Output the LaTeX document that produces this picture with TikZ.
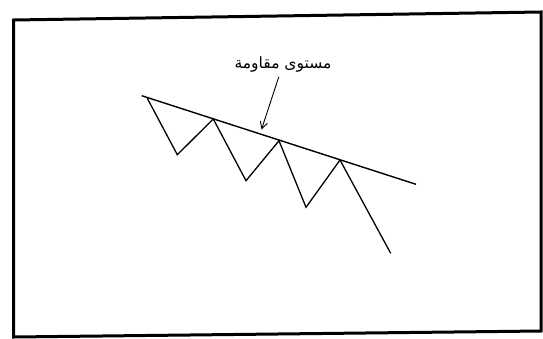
\documentclass[tikz,border=0pt]{standalone}
\usepackage{fontspec}
\usetikzlibrary{arrows.meta,positioning,calc}
\newfontfamily\arabicfont[Script=Arabic]{DejaVu Sans}
\TeXXeTstate=1
\tikzset{frame/.style={line width=3pt,line join=miter},trend/.style={line width=1.4pt},price/.style={line width=1.3pt,line join=miter},arrow/.style={-{Straight Barb[length=2.4mm,width=2.6mm]},line width=0.9pt},lab/.style={font=\arabicfont\fontsize{15.5}{17}\selectfont,inner sep=1pt}}
\begin{document}
\begin{tikzpicture}[x=1pt,y=-1pt]
\useasboundingbox (0,0) rectangle (543,338);
\draw[frame] (13.5,20) -- (541,12) -- (541,331) -- (13.5,337) -- cycle;
% resistance line
\coordinate (r1) at (141.7,95.7);\coordinate (r2) at (416,184.3);
\draw[trend] (r1)--(r2);
% price swings
\coordinate (p0) at (147.3,98.3);\coordinate (p1) at (177.3,154.7);
\coordinate (p2) at (213.3,119);\coordinate (p3) at (246,180.7);
\coordinate (p4) at (279,140.7);\coordinate (p5) at (306,207.3);
\coordinate (p6) at (340,160);\coordinate (p7) at (390.7,253.3);
\draw[price] (p0)--(p1)--(p2)--(p3)--(p4)--(p5)--(p6)--(p7);
\node[lab] (res) at (283,64) {\beginR مستوى مقاومة\endR};
\coordinate (hit) at (261.5,129.5);
\draw[arrow,shorten <=4pt] (res)--(hit);
\end{tikzpicture}
\end{document}
